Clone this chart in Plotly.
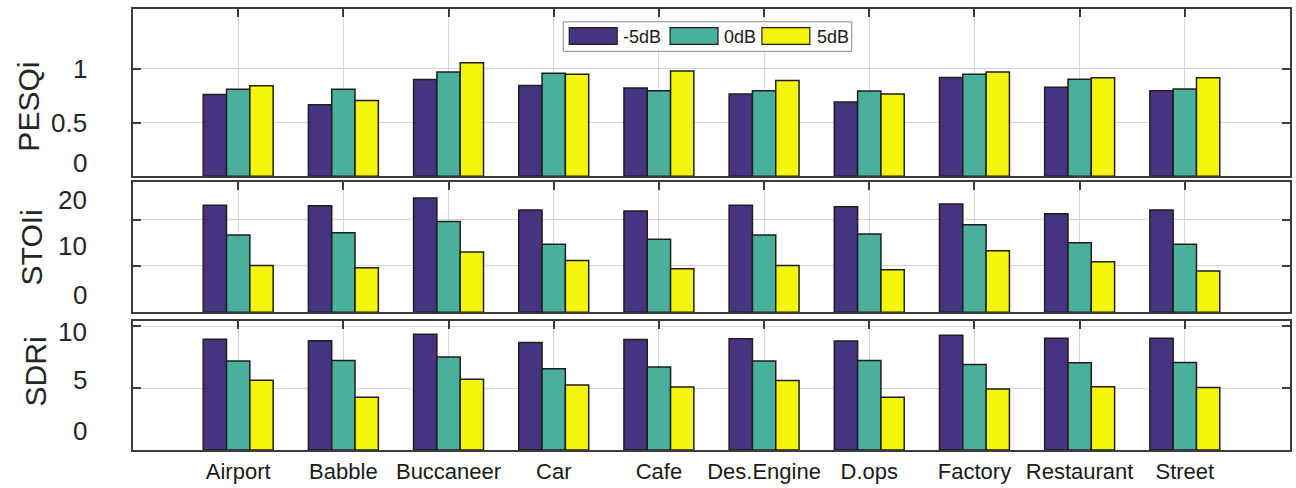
import plotly.graph_objects as go
from plotly.subplots import make_subplots

categories = ["Airport", "Babble", "Buccaneer", "Car", "Cafe", "Des.Engine",
              "D.ops", "Factory", "Restaurant", "Street"]
series_names = ["-5dB", "0dB", "5dB"]
series_colors = ["#463480", "#4AB09C", "#F5F50C"]

pesqi_m5 = [0.76, 0.665, 0.90, 0.845, 0.82, 0.765, 0.69, 0.918, 0.829, 0.796]
pesqi_0 = [0.81, 0.81, 0.97, 0.957, 0.796, 0.796, 0.793, 0.948, 0.902, 0.811]
pesqi_5 = [0.842, 0.705, 1.055, 0.948, 0.979, 0.89, 0.765, 0.97, 0.915, 0.915]

stoii_m5 = [23.1, 23.0, 24.7, 22.1, 21.9, 23.1, 22.8, 23.4, 21.3, 22.1]
stoii_0 = [16.7, 17.2, 19.6, 14.7, 15.8, 16.7, 16.9, 18.9, 15.0, 14.7]
stoii_5 = [10.1, 9.6, 13.0, 11.2, 9.4, 10.1, 9.2, 13.3, 10.9, 8.9]

sdri_m5 = [8.94, 8.81, 9.34, 8.68, 8.91, 8.97, 8.79, 9.26, 9.02, 9.02]
sdri_0 = [7.17, 7.22, 7.51, 6.56, 6.69, 7.17, 7.22, 6.90, 7.04, 7.06]
sdri_5 = [5.63, 4.26, 5.71, 5.24, 5.08, 5.61, 4.26, 4.92, 5.10, 5.05]

panel_titles = ["PESQi", "STOIi", "SDRi"]
panel_data = [[pesqi_m5, pesqi_0, pesqi_5],
              [stoii_m5, stoii_0, stoii_5],
              [sdri_m5, sdri_0, sdri_5]]
panel_ranges = [[0, 1.555], [0, 28.1], [0, 10.4]]
panel_ticks = [[0.5, 1], [10, 20], [5, 10]]
tick_labels = [["1", "0.5", "0"], ["20", "10", "0"], ["10", "5", "0"]]

# ---- layout geometry (pixels) ----
W, H = 1296, 488
L, R, T, B = 133, 4, 9, 31
PW, PH = W - L - R, H - T - B


def xp(px):
    return (px - L) / PW


def yp(py):
    return (H - B - py) / PH


panel_px = [(9, 179), (185, 317), (326, 457)]
label_py = [[70, 125, 165], [203, 250, 300], [337, 386, 438]]
title_px = [(28, 108), (31, 251), (35, 377)]

fig = make_subplots(rows=3, cols=1, shared_xaxes=False)

for p in range(3):
    for s in range(3):
        fig.add_trace(go.Bar(
            x=list(range(len(categories))), y=panel_data[p][s],
            name=series_names[s], showlegend=False,
            marker=dict(color=series_colors[s], line=dict(color="#1e1e1e", width=1.5)),
        ), row=p + 1, col=1)

font_family = "Arial, Liberation Sans, sans-serif"
axis_color = "#3c3c3c"
grid_color = "#d6d6d6"

for p in range(3):
    top, bot = panel_px[p]
    xa = "xaxis" if p == 0 else f"xaxis{p+1}"
    ya = "yaxis" if p == 0 else f"yaxis{p+1}"
    fig.layout[xa].update(
        range=[-1, len(categories)], domain=[0, 1],
        tickmode="array", tickvals=list(range(len(categories))),
        ticktext=categories if p == 2 else [""] * len(categories),
        showticklabels=(p == 2), ticklabelstandoff=1,
        ticks="inside", ticklen=8, tickwidth=1.5, tickcolor=axis_color,
        showline=True, linecolor=axis_color, linewidth=2, mirror="ticks",
        showgrid=True, gridcolor=grid_color, gridwidth=1,
        zeroline=False, layer="below traces",
        tickfont=dict(family=font_family, size=22, color="#1a1a1a"),
    )
    fig.layout[ya].update(
        range=panel_ranges[p], domain=[yp(bot), yp(top)],
        tickmode="array", tickvals=panel_ticks[p], showticklabels=False,
        ticks="inside", ticklen=8, tickwidth=1.5, tickcolor=axis_color,
        showline=True, linecolor=axis_color, linewidth=2, mirror="ticks",
        showgrid=True, gridcolor=grid_color, gridwidth=1, zeroline=False,
    )
    for lab, py in zip(tick_labels[p], label_py[p]):
        fig.add_annotation(x=xp(89), y=yp(py), xref="paper", yref="paper",
                           text=lab, showarrow=False, xanchor="right", yanchor="middle",
                           font=dict(family=font_family, size=26, color="#262626"))
    tx, ty = title_px[p]
    fig.add_annotation(x=xp(tx), y=yp(ty), xref="paper", yref="paper",
                       text=panel_titles[p], showarrow=False, textangle=-90,
                       xanchor="center", yanchor="middle",
                       font=dict(family=font_family, size=30, color="#262626"))

# ---- legend (drawn as shapes + text, in the reference's style) ----
fig.add_shape(type="rect", xref="paper", yref="paper",
              x0=xp(564), x1=xp(853), y0=yp(52), y1=yp(22),
              line=dict(color="#8a8a8a", width=1), fillcolor="white", layer="above")
sw_x = [570, 671, 763]
tx_x = [622, 723, 816]
for s in range(3):
    fig.add_shape(type="rect", xref="paper", yref="paper",
                  x0=xp(sw_x[s]), x1=xp(sw_x[s] + 48), y0=yp(45), y1=yp(28),
                  line=dict(color="#1e1e1e", width=1.2), fillcolor=series_colors[s],
                  layer="above")
    fig.add_annotation(x=xp(tx_x[s]), y=yp(37), xref="paper", yref="paper",
                       text=series_names[s], showarrow=False, xanchor="left",
                       yanchor="middle",
                       font=dict(family=font_family, size=18, color="#1a1a1a"))

fig.update_layout(
    width=W, height=H,
    margin=dict(l=L, r=R, t=T, b=B, pad=0),
    barmode="group", bargap=0.335, bargroupgap=0,
    plot_bgcolor="white", paper_bgcolor="white",
    showlegend=False,
)

fig.write_html("out.html", config={"displayModeBar": False},
               post_script="document.body.style.margin='0';document.body.style.padding='0';")
